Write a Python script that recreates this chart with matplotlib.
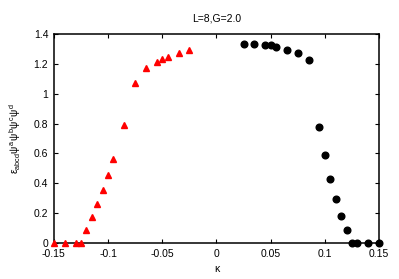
import matplotlib
matplotlib.use('Agg')
import matplotlib.pyplot as plt

plt.rcParams['font.family'] = ['Liberation Sans', 'DejaVu Sans']
plt.rcParams['mathtext.fontset'] = 'custom'
plt.rcParams['mathtext.rm'] = 'Liberation Sans'
plt.rcParams['mathtext.it'] = 'Liberation Sans'

# red triangles (negative kappa branch)
kappa_neg = [-0.15, -0.14, -0.13, -0.125, -0.12, -0.115, -0.11, -0.105, -0.1, -0.095,
             -0.085, -0.075, -0.065, -0.055, -0.05, -0.045, -0.035, -0.025]
val_neg = [0.0, 0.0, 0.0, 0.0, 0.087, 0.172, 0.263, 0.357, 0.457, 0.56,
           0.792, 1.072, 1.174, 1.214, 1.232, 1.246, 1.273, 1.293]

# black circles (positive kappa branch)
kappa_pos = [0.025, 0.035, 0.045, 0.05, 0.055, 0.065, 0.075, 0.085, 0.095,
             0.1, 0.105, 0.11, 0.115, 0.12, 0.125, 0.13, 0.14, 0.15]
val_pos = [1.331, 1.331, 1.326, 1.324, 1.311, 1.295, 1.27, 1.224, 0.775,
           0.587, 0.429, 0.297, 0.183, 0.087, 0.0, 0.0, 0.0, 0.0]

xticks = [-0.15, -0.1, -0.05, 0, 0.05, 0.1, 0.15]
xticklabels = ['-0.15', '-0.1', '-0.05', '0', '0.05', '0.1', '0.15']
yticks = [0, 0.2, 0.4, 0.6, 0.8, 1.0, 1.2, 1.4]
yticklabels = ['0', '0.2', '0.4', '0.6', '0.8', '1', '1.2', '1.4']

fig = plt.figure(figsize=(3.99, 2.79), dpi=100)
ax = fig.add_axes([0.135, 0.129, 0.815, 0.749])

ax.plot(kappa_neg, val_neg, linestyle='none', marker='^', color='red',
        markersize=4.8, clip_on=False, zorder=3)
ax.plot(kappa_pos, val_pos, linestyle='none', marker='o', color='black',
        markersize=4.8, clip_on=False, zorder=3)

ax.set_xlim(-0.15, 0.15)
ax.set_ylim(0, 1.4)
ax.set_xticks(xticks)
ax.set_xticklabels(xticklabels)
ax.set_yticks(yticks)
ax.set_yticklabels(yticklabels)
ax.tick_params(direction='in', top=True, right=True, labelsize=7.5,
               length=3, width=0.8, pad=4)
for s in ax.spines.values():
    s.set_linewidth(1.1)

ax.set_xlabel('κ', fontsize=7.5, labelpad=4)
ax.set_ylabel(r'$\varepsilon_{abcd}\psi^a\psi^b\psi^c\psi^d$', fontsize=7.5, labelpad=8)
ax.set_title('L=8,G=2.0', fontsize=7.5, pad=9)

fig.savefig('out.png', dpi=100)
